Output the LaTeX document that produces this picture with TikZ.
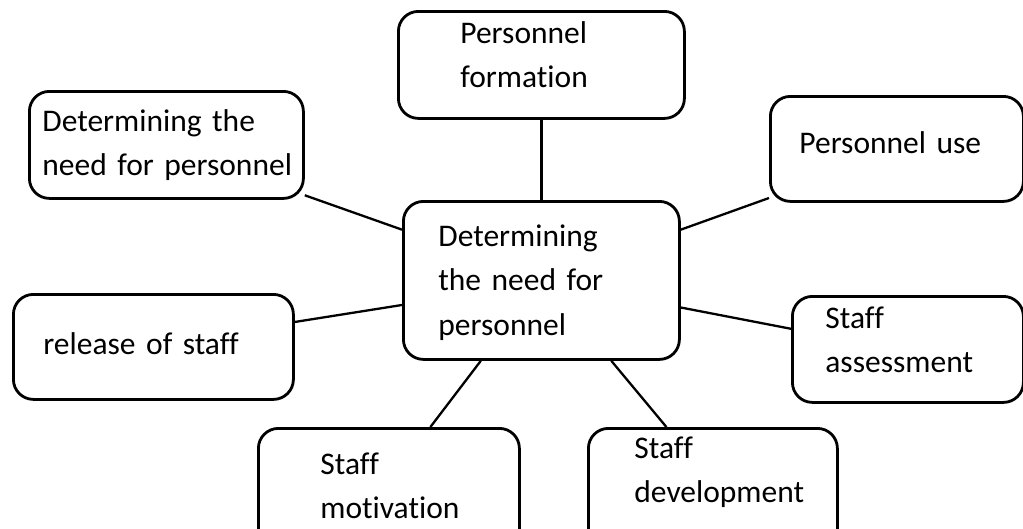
\documentclass[tikz,border=0pt]{standalone}
\usepackage{fontspec}
\setmainfont{Carlito}[Ligatures=CommonOff, WordSpace=0.85]

\begin{document}
\begin{tikzpicture}[
  x=1pt, y=1pt,
  pbox/.style={draw, line width=2.8pt, rounded corners=20pt, anchor=north west,
               align=left, inner ysep=0pt, minimum height=0pt,
               font=\fontsize{31.5}{44.5}\selectfont},
  link/.style={line width=2.3pt}
]
\useasboundingbox (0,0) rectangle (1023,-528);

% Central box
\node[pbox, text width=206pt, inner xsep=35pt, text height=45pt, text depth=113pt]
  (need) at (402,-200) {Determining\\the need for\\personnel};

% Surrounding boxes
\node[pbox, text width=162pt, inner xsep=62pt, text height=32pt, text depth=75pt]
  (form) at (397,-10) {Personnel\\formation};
\node[pbox, text width=248pt, inner xsep=13pt, text height=40pt, text depth=67pt]
  (needl) at (28,-90) {Determining the\\\mbox{need for personnel}};
\node[pbox, text width=195pt, inner xsep=29pt, text height=57pt, text depth=48pt]
  (use) at (769,-95) {Personnel use};
\node[pbox, text width=220pt, inner xsep=30pt, text height=60pt, text depth=45pt]
  (release) at (12,-293) {release of staff};
\node[pbox, text width=165pt, inner xsep=33pt, text height=32pt, text depth=74pt]
  (assess) at (791,-295) {Staff\\assessment};
\node[pbox, text width=137pt, inner xsep=62pt, text height=46pt, text depth=110pt]
  (motiv) at (257,-427) {Staff\\\mbox{motivation}};
\node[pbox, text width=157pt, inner xsep=46pt, text height=30pt, text depth=120pt]
  (devel) at (587,-427) {Staff\\\mbox{development}};

% Connectors
\draw[link] (form) -- (need);
\draw[link] (needl.-20) -- (need.160);
\draw[link] (use.201) -- (need.20);
\draw[link] (release.10) -- (need.190);
\draw[link] (assess.170) -- (need.-11);
\draw[link] ([xshift=41.5pt]motiv.north) -- (need.233);
\draw[link] ([xshift=-46.5pt]devel.north) -- (need.-49);

\end{tikzpicture}
\end{document}
